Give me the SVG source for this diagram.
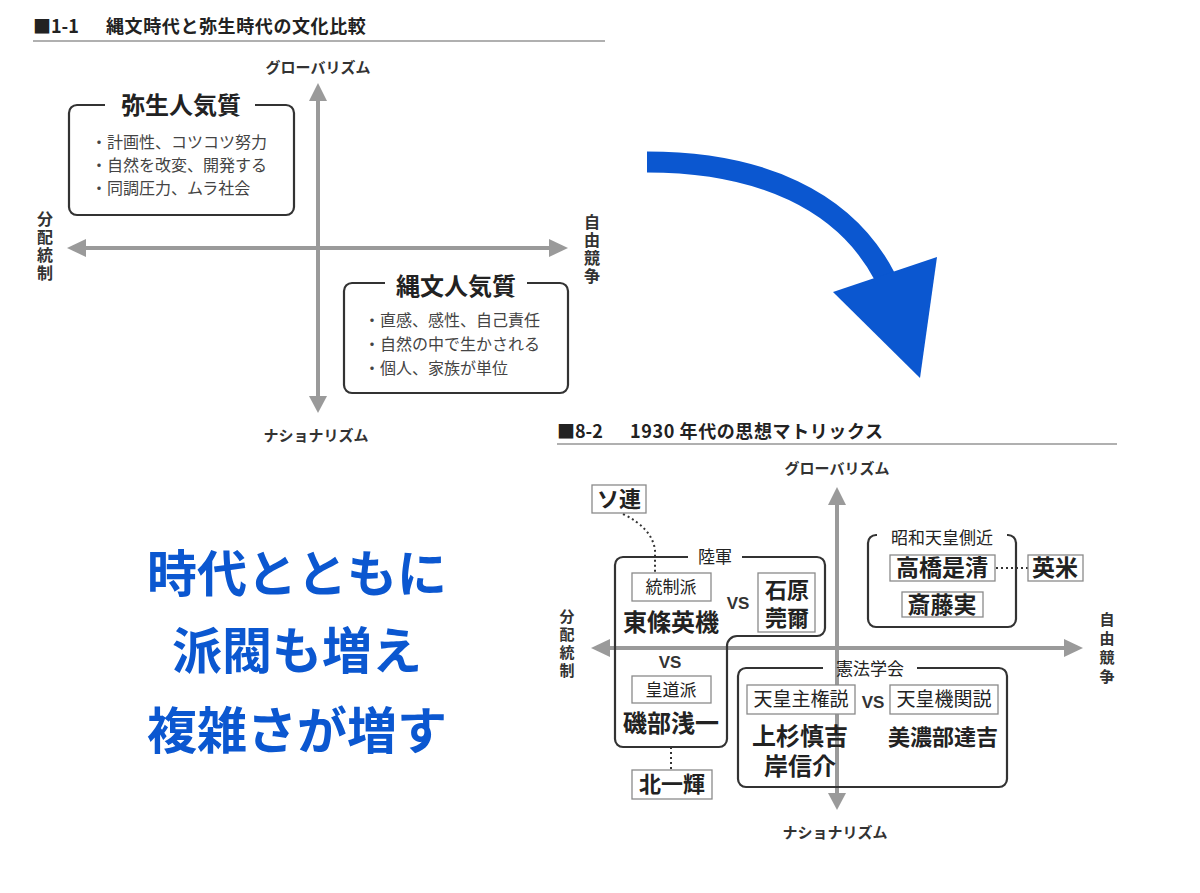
<svg xmlns="http://www.w3.org/2000/svg" width="1200" height="893" viewBox="0 0 1200 893">
<style>
text{font-family:"Noto Sans CJK JP","Noto Sans",sans-serif;fill:#222}
.title{font-size:18px;font-weight:bold}
.axl{font-size:15px;font-weight:bold;fill:#333;text-anchor:middle}
.vl{font-size:16px;font-weight:bold;fill:#333;writing-mode:vertical-rl;letter-spacing:2px}
.axis{stroke:#9a9a9a;stroke-width:4;fill:none}
.ah{fill:#9a9a9a}
.hr{stroke:#b0b0b0;stroke-width:2}
.frame{fill:none;stroke:#333;stroke-width:2.2}
.bt{font-size:24px;font-weight:bold;text-anchor:middle}
.item{font-size:16px;fill:#444}
.tag{fill:#fff;stroke:#8a8a8a;stroke-width:1.3}
.lbl{font-size:17px;text-anchor:middle}
.nm{font-size:23px;font-weight:bold;text-anchor:middle}
.vs{font-family:"Liberation Sans",Arial,sans-serif;font-size:17px;font-weight:bold;text-anchor:middle;fill:#333}
.dot{fill:none;stroke:#333;stroke-width:2;stroke-dasharray:2 3}
.big{font-size:50px;font-weight:bold;fill:#0b57d0;text-anchor:middle}
</style>

<!-- Upper diagram -->
<g id="title1">
<text class="title" x="33" y="33">■1-1</text>
<text class="title" x="106" y="33" style="letter-spacing:0.6px">縄文時代と弥生時代の文化比較</text>
<line class="hr" x1="33" y1="41" x2="605" y2="41"/>
</g>
<g id="axes1">
<line class="axis" x1="318" y1="98" x2="318" y2="399"/>
<polygon class="ah" points="318,83 309,101 327,101"/>
<polygon class="ah" points="318,413 309,396 327,396"/>
<line class="axis" x1="82" y1="248" x2="553" y2="248"/>
<polygon class="ah" points="67,248 86,239 86,257"/>
<polygon class="ah" points="568,248 549,239 549,257"/>
</g>
<g id="axislabels1">
<text class="axl" x="318" y="73">グローバリズム</text>
<text class="axl" x="316" y="441">ナショナリズム</text>
<text class="vl" x="45" y="211">分配統制</text>
<text class="vl" x="592" y="214">自由競争</text>
</g>
<g id="yayoi">
<path class="frame" d="M105,105 H77 A8,8 0 0 0 69,113 V207 A8,8 0 0 0 77,215 H286 A8,8 0 0 0 294,207 V113 A8,8 0 0 0 286,105 H255"/>
<text class="bt" x="181" y="114">弥生人気質</text>
<text class="item" x="91" y="148">・計画性、コツコツ努力</text>
<text class="item" x="91" y="171">・自然を改変、開発する</text>
<text class="item" x="91" y="194">・同調圧力、ムラ社会</text>
</g>
<g id="jomon">
<path class="frame" d="M385,283 H352 A8,8 0 0 0 344,291 V385 A8,8 0 0 0 352,393 H560 A8,8 0 0 0 568,385 V291 A8,8 0 0 0 560,283 H527"/>
<text class="bt" x="456" y="295">縄文人気質</text>
<text class="item" x="364" y="326">・直感、感性、自己責任</text>
<text class="item" x="364" y="350">・自然の中で生かされる</text>
<text class="item" x="364" y="374">・個人、家族が単位</text>
</g>

<!-- Blue arrow and message -->
<g id="bluearrow">
<path d="M647,162 C760,162 845,200 885,277" fill="none" stroke="#0b57d0" stroke-width="21"/>
<polygon points="833,292 937,257 920,378" fill="#0b57d0"/>
</g>
<g id="message">
<text class="big" x="297" y="592">時代とともに</text>
<text class="big" x="297" y="669">派閥も増え</text>
<text class="big" x="297" y="749">複雑さが増す</text>
</g>

<!-- Lower diagram -->
<g id="title2">
<text class="title" x="557" y="438">■8-2</text>
<text class="title" x="630" y="438" style="letter-spacing:0.6px">1930 年代の思想マトリックス</text>
<line class="hr" x1="557" y1="444" x2="1117" y2="444"/>
</g>
<g id="axes2">
<line class="axis" x1="837" y1="502" x2="837" y2="796"/>
<polygon class="ah" points="837,487 828,505 846,505"/>
<polygon class="ah" points="837,810 828,793 846,793"/>
<line class="axis" x1="606" y1="648" x2="1068" y2="648"/>
<polygon class="ah" points="591,648 610,639 610,657"/>
<polygon class="ah" points="1083,648 1064,639 1064,657"/>
</g>
<g id="axislabels2">
<text class="axl" x="837" y="474">グローバリズム</text>
<text class="axl" x="835" y="838">ナショナリズム</text>
<text class="vl" x="567" y="609" style="font-size:15px;letter-spacing:3px">分配統制</text>
<text class="vl" x="1107" y="612" style="font-size:15px;letter-spacing:4px">自由競争</text>
</g>

<g id="connectors">
<path class="dot" d="M623,514 Q652,528 655,550 V573"/>
<line class="dot" x1="671" y1="747" x2="671" y2="770"/>
<line class="dot" x1="996" y1="568" x2="1028" y2="568"/>
</g>

<g id="soren">
<rect class="tag" x="592" y="485" width="54" height="28"/>
<text class="nm" x="619" y="507" style="font-size:22px">ソ連</text>
</g>

<g id="rikugun">
<path class="frame" d="M688,557 H623 A8,8 0 0 0 615,565 V739 A8,8 0 0 0 623,747 H719 A8,8 0 0 0 727,739 V646 A10,10 0 0 1 737,636 H817 A8,8 0 0 0 825,628 V565 A8,8 0 0 0 817,557 H742"/>
<text class="lbl" x="715" y="563">陸軍</text>
<rect class="tag" x="632" y="573" width="79" height="28"/>
<text class="lbl" x="671" y="593">統制派</text>
<text class="nm" x="671" y="631" style="font-size:24px">東條英機</text>
<text class="vs" x="738" y="609">VS</text>
<rect class="tag" x="758" y="573" width="57" height="59"/>
<text class="nm" style="font-size:22px"><tspan x="787" y="598">石原</tspan><tspan x="787" y="626">莞爾</tspan></text>
<text class="vs" x="670" y="668">VS</text>
<rect class="tag" x="632" y="676" width="79" height="27"/>
<text class="lbl" x="671" y="696">皇道派</text>
<text class="nm" x="671" y="732" style="font-size:24px">磯部浅一</text>
</g>

<g id="kita">
<rect class="tag" x="632" y="770" width="80" height="29"/>
<text class="nm" x="672" y="792" style="font-size:22px">北一輝</text>
</g>

<g id="sokkin">
<path class="frame" d="M877,535 H876 A8,8 0 0 0 868,543 V619 A8,8 0 0 0 876,627 H1008 A8,8 0 0 0 1016,619 V543 A8,8 0 0 0 1008,535 H1007"/>
<text class="lbl" x="942" y="544">昭和天皇側近</text>
<rect class="tag" x="890" y="555" width="105" height="26"/>
<text class="nm" x="942" y="576">高橋是清</text>
<rect class="tag" x="902" y="592" width="81" height="25"/>
<text class="nm" x="942" y="613">斎藤実</text>
</g>

<g id="eibei">
<rect class="tag" x="1028" y="555" width="55" height="26"/>
<text class="nm" x="1055" y="576">英米</text>
</g>

<g id="kenpo">
<path class="frame" d="M823,668 H746 A8,8 0 0 0 738,676 V779 A8,8 0 0 0 746,787 H999 A8,8 0 0 0 1007,779 V676 A8,8 0 0 0 999,668 H917"/>
<text class="lbl" x="870" y="675">憲法学会</text>
<rect class="tag" x="747" y="685" width="108" height="29"/>
<text class="lbl" x="801" y="706" style="font-size:19px">天皇主権説</text>
<text class="vs" x="873" y="708">VS</text>
<rect class="tag" x="890" y="685" width="108" height="29"/>
<text class="lbl" x="944" y="706" style="font-size:19px">天皇機関説</text>
<text class="nm" style="font-size:24px"><tspan x="800" y="745">上杉慎吉</tspan><tspan x="800" y="775">岸信介</tspan></text>
<text class="nm" x="943" y="745" style="font-size:22px">美濃部達吉</text>
</g>
</svg>
